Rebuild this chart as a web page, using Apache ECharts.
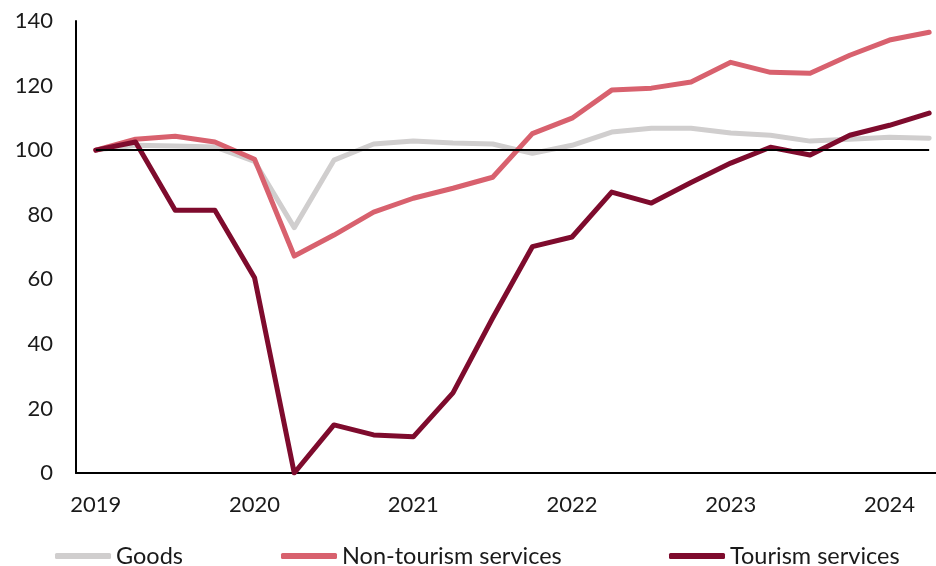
<!DOCTYPE html>
<html>
<head>
<meta charset="utf-8">
<script src="https://cdn.jsdelivr.net/npm/echarts@6/dist/echarts.min.js"></script>
<style>
  html, body { margin: 0; padding: 0; background: #ffffff; }
  #chart { width: 936px; height: 566px; }
</style>
</head>
<body>
<div id="chart"></div>
<script>
// Quarterly index, 2019 Q1 = 100
const quarters = [
  '2019Q1', '2019Q2', '2019Q3', '2019Q4',
  '2020Q1', '2020Q2', '2020Q3', '2020Q4',
  '2021Q1', '2021Q2', '2021Q3', '2021Q4',
  '2022Q1', '2022Q2', '2022Q3', '2022Q4',
  '2023Q1', '2023Q2', '2023Q3', '2023Q4',
  '2024Q1', '2024Q2'
];

const goods = [
  100, 101.5, 101.3, 101, 96.5, 76, 96.9, 101.9, 102.8, 102.2, 101.9,
  99, 101.5, 105.6, 106.8, 106.8, 105.3, 104.6, 102.8, 103.4, 104, 103.7
];

const nonTourismServices = [
  100, 103.4, 104.3, 102.5, 97.2, 67.2, 73.7, 80.8, 85.1, 88.2, 91.6,
  105.1, 109.9, 118.6, 119.2, 121.1, 127.2, 124.1, 123.8, 129.4, 134.1, 136.5
];

const tourismServices = [
  100, 102.5, 81.4, 81.4, 60.5, 0, 14.9, 11.8, 11.2, 24.8, 48,
  70.1, 73.1, 87, 83.6, 90, 96, 100.9, 98.5, 104.6, 107.7, 111.5
];

const yTicks = { min: 0, max: 140, interval: 20 };
const baseline = 100;

const seriesNames = ['Goods', 'Non-tourism services', 'Tourism services'];
const seriesColors = ['#d0cece', '#d8616e', '#7e0b2d'];

const fontFamily = 'Lato, "Open Sans", sans-serif';
const textColor = '#1a1a1a';

const chart = echarts.init(document.getElementById('chart'), null, { renderer: 'canvas' });

function lineSeries(name, data, color, extra) {
  return Object.assign({
    name: name,
    type: 'line',
    data: data,
    showSymbol: false,
    symbol: 'none',
    smooth: false,
    color: color,
    lineStyle: { color: color, width: 5, cap: 'round', join: 'round' }
  }, extra || {});
}

function legendFor(name, left) {
  return {
    data: [name],
    left: left,
    top: 544,
    padding: 0,
    itemWidth: 56,
    itemHeight: 6,
    itemGap: 5,
    icon: 'roundRect',
    textStyle: { fontFamily: fontFamily, fontSize: 23.5, color: textColor }
  };
}

chart.setOption({
  animation: false,
  backgroundColor: '#ffffff',
  // the plot runs a little past the right edge of the canvas
  grid: { left: 76, top: 21, width: 873, height: 452, containLabel: false, outerBoundsMode: 'none' },
  legend: [
    legendFor(seriesNames[0], 55),
    legendFor(seriesNames[1], 281),
    legendFor(seriesNames[2], 669)
  ],
  xAxis: {
    type: 'category',
    data: quarters,
    boundaryGap: true,
    axisLine: { show: true, lineStyle: { color: '#000000', width: 2 } },
    axisTick: { show: false },
    splitLine: { show: false },
    axisLabel: {
      interval: 3,
      margin: 21,
      fontFamily: fontFamily,
      fontSize: 22,
      color: textColor,
      formatter: function (v) { return v.slice(0, 4); }
    }
  },
  yAxis: {
    type: 'value',
    min: yTicks.min,
    max: yTicks.max,
    interval: yTicks.interval,
    axisLine: { show: true, lineStyle: { color: '#000000', width: 2 } },
    axisTick: { show: false },
    splitLine: { show: false },
    axisLabel: {
      margin: 23,
      fontFamily: fontFamily,
      fontSize: 22,
      color: textColor
    }
  },
  series: [
    lineSeries(seriesNames[0], goods, seriesColors[0], {
      markLine: {
        silent: true,
        symbol: 'none',
        label: { show: false },
        lineStyle: { color: '#000000', width: 2, type: 'solid' },
        data: [[
          { coord: [quarters[0], baseline] },
          { coord: [quarters[quarters.length - 1], baseline] }
        ]]
      }
    }),
    lineSeries(seriesNames[1], nonTourismServices, seriesColors[1]),
    lineSeries(seriesNames[2], tourismServices, seriesColors[2])
  ]
});
</script>
</body>
</html>
